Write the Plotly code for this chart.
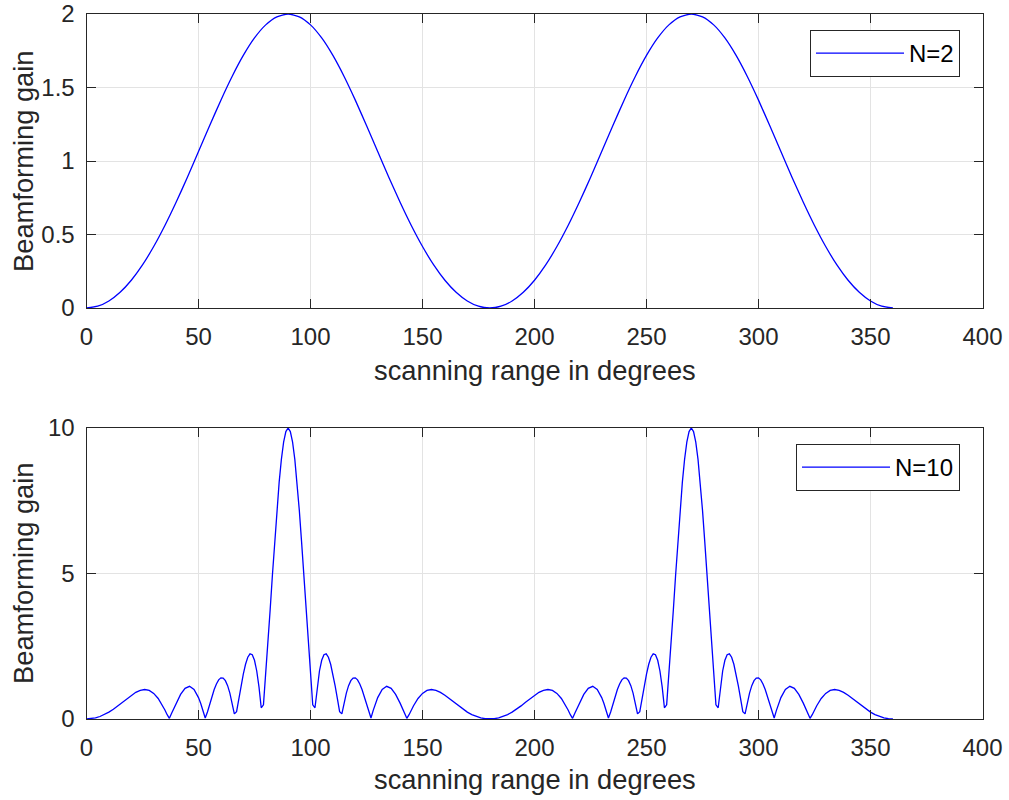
import plotly.graph_objects as go

# ---------------- data ----------------
angles_n2 = [0, 5, 10, 15, 20, 25, 30, 35, 40, 45, 50, 55, 60, 65, 70, 75, 80, 85, 90,
             95, 100, 105, 110, 115, 120, 125, 130, 135, 140, 145, 150, 155, 160, 165, 170, 175, 180,
             185, 190, 195, 200, 205, 210, 215, 220, 225, 230, 235, 240, 245, 250, 255, 260, 265, 270,
             275, 280, 285, 290, 295, 300, 305, 310, 315, 320, 325, 330, 335, 340, 345, 350, 355, 360]
gain_n2 = [0, 0.012, 0.048, 0.107, 0.189, 0.293, 0.418, 0.561, 0.719, 0.888, 1.064, 1.241, 1.414,
           1.575, 1.718, 1.837, 1.926, 1.981, 2.0,
           1.981, 1.926, 1.837, 1.718, 1.575, 1.414, 1.241, 1.064, 0.888, 0.719, 0.561, 0.418,
           0.293, 0.189, 0.107, 0.048, 0.012, 0,
           0.012, 0.048, 0.107, 0.189, 0.293, 0.418, 0.561, 0.719, 0.888, 1.064, 1.241, 1.414,
           1.575, 1.718, 1.837, 1.926, 1.981, 2.0,
           1.981, 1.926, 1.837, 1.718, 1.575, 1.414, 1.241, 1.064, 0.888, 0.719, 0.561, 0.418,
           0.293, 0.189, 0.107, 0.048, 0.012, 0]

angles_n10 = [
    0, 2, 4, 6, 8, 10, 12, 14, 16, 18, 20, 22, 24, 26, 28, 30, 32, 34, 35, 36, 37, 38,
    40, 42, 44, 46, 48, 50, 51, 52, 53, 54, 55, 56, 57, 58, 59, 60,
    61, 62, 63, 64, 65, 66, 67, 68, 69, 70, 71, 72, 73, 74, 75, 76, 77, 78, 79, 80,
    81, 82, 83, 84, 85, 86, 87, 88, 89, 90,
    91, 92, 93, 94, 95, 96, 97, 98, 99, 100, 101, 102, 103, 104, 105, 106, 107, 108, 109, 110,
    111, 112, 113, 114, 115, 116, 117, 118, 119, 120, 121, 122, 123, 124, 125, 126, 127, 128, 129, 130,
    132, 134, 136, 138, 140, 142, 143, 144, 145, 146,
    148, 150, 152, 154, 156, 158, 160, 162, 164, 166, 168, 170, 172, 174, 176, 178, 180,
    182, 184, 186, 188, 190, 192, 194, 196, 198, 200, 202, 204, 206, 208, 210, 212, 214,
    215, 216, 217, 218, 220, 222, 224, 226, 228, 230, 231, 232, 233, 234, 235, 236, 237, 238, 239, 240,
    241, 242, 243, 244, 245, 246, 247, 248, 249, 250, 251, 252, 253, 254, 255, 256, 257, 258, 259, 260,
    261, 262, 263, 264, 265, 266, 267, 268, 269, 270,
    271, 272, 273, 274, 275, 276, 277, 278, 279, 280, 281, 282, 283, 284, 285, 286, 287, 288, 289, 290,
    291, 292, 293, 294, 295, 296, 297, 298, 299, 300, 301, 302, 303, 304, 305, 306, 307, 308, 309, 310,
    312, 314, 316, 318, 320, 322, 323, 324, 325, 326,
    328, 330, 332, 334, 336, 338, 340, 342, 344, 346, 348, 350, 352, 354, 356, 358, 360]
gain_n10 = [
    0, 0.010, 0.038, 0.086, 0.152, 0.236, 0.337, 0.450, 0.573, 0.697, 0.815, 0.916, 0.986, 1.013,
    0.981, 0.880, 0.705, 0.457, 0.309, 0.148, 0.023, 0.198,
    0.545, 0.847, 1.055, 1.123, 1.019, 0.735, 0.532, 0.296, 0.035, 0.239, 0.514, 0.777, 1.012,
    1.205, 1.344, 1.414,
    1.408, 1.319, 1.147, 0.892, 0.565, 0.177, 0.252, 0.700, 1.140, 1.544, 1.881, 2.122, 2.240,
    2.211, 2.017, 1.650, 1.104, 0.386, 0.487, 1.493,
    2.598, 3.765, 4.949, 6.104, 7.178, 8.130, 8.922, 9.512, 9.876, 10.0,
    9.876, 9.512, 8.922, 8.130, 7.178, 6.104, 4.949, 3.765, 2.598, 1.493, 0.487, 0.386, 1.104,
    1.650, 2.017, 2.211, 2.240, 2.122, 1.881, 1.544,
    1.140, 0.700, 0.252, 0.177, 0.565, 0.892, 1.147, 1.319, 1.408, 1.414, 1.344, 1.205, 1.012,
    0.777, 0.514, 0.239, 0.035, 0.296, 0.532, 0.735,
    1.019, 1.123, 1.055, 0.847, 0.545, 0.198, 0.023, 0.148, 0.309, 0.457,
    0.705, 0.880, 0.981, 1.013, 0.986, 0.916, 0.815, 0.697, 0.573, 0.450, 0.337, 0.236, 0.152,
    0.086, 0.038, 0.010, 0,
    0.010, 0.038, 0.086, 0.152, 0.236, 0.337, 0.450, 0.573, 0.697, 0.815, 0.916, 0.986, 1.013,
    0.981, 0.880, 0.705, 0.457,
    0.309, 0.148, 0.023, 0.198, 0.545, 0.847, 1.055, 1.123, 1.019, 0.735, 0.532, 0.296, 0.035,
    0.239, 0.514, 0.777, 1.012, 1.205, 1.344, 1.414,
    1.408, 1.319, 1.147, 0.892, 0.565, 0.177, 0.252, 0.700, 1.140, 1.544, 1.881, 2.122, 2.240,
    2.211, 2.017, 1.650, 1.104, 0.386, 0.487, 1.493,
    2.598, 3.765, 4.949, 6.104, 7.178, 8.130, 8.922, 9.512, 9.876, 10.0,
    9.876, 9.512, 8.922, 8.130, 7.178, 6.104, 4.949, 3.765, 2.598, 1.493, 0.487, 0.386, 1.104,
    1.650, 2.017, 2.211, 2.240, 2.122, 1.881, 1.544,
    1.140, 0.700, 0.252, 0.177, 0.565, 0.892, 1.147, 1.319, 1.408, 1.414, 1.344, 1.205, 1.012,
    0.777, 0.514, 0.239, 0.035, 0.296, 0.532, 0.735,
    1.019, 1.123, 1.055, 0.847, 0.545, 0.198, 0.023, 0.148, 0.309, 0.457,
    0.705, 0.880, 0.981, 1.013, 0.986, 0.916, 0.815, 0.697, 0.573, 0.450, 0.337, 0.236, 0.152,
    0.086, 0.038, 0.010, 0]

x_ticks = [0, 50, 100, 150, 200, 250, 300, 350, 400]
y_ticks_top = [0, 0.5, 1, 1.5, 2]
y_ticks_bottom = [0, 5, 10]
x_title = "scanning range in degrees"
y_title = "Beamforming gain"

# ---------------- styling ----------------
W, H = 1009, 800
FONT = "Liberation Sans, Arial, Helvetica, sans-serif"
TXT = "#262626"
GRID = "#e3e3e3"
BLUE = "#0000ff"

x0, x1 = 86.5 / W, 982.5 / W
top_dom = [1 - 308 / H, 1 - 14 / H]
bot_dom = [1 - 719 / H, 1 - 428 / H]

fig = go.Figure()
fig.add_trace(go.Scatter(x=angles_n2, y=gain_n2, mode="lines", name="N=2", showlegend=True,
                         line=dict(color=BLUE, width=1.3, shape="spline", smoothing=0.6),
                         xaxis="x", yaxis="y", legend="legend"))
fig.add_trace(go.Scatter(x=angles_n10, y=gain_n10, mode="lines", name="N=10", showlegend=True,
                         line=dict(color=BLUE, width=1.3),
                         xaxis="x2", yaxis="y2", legend="legend2"))

axis_common = dict(showline=True, linecolor=TXT, linewidth=1, mirror="ticks",
                   ticks="inside", ticklen=9, tickwidth=1, tickcolor=TXT,
                   showgrid=True, gridcolor=GRID, gridwidth=1, zeroline=False,
                   automargin=False,
                   tickfont=dict(family=FONT, size=24, color=TXT))

legend_common = dict(bgcolor="white", bordercolor=TXT, borderwidth=1, xanchor="right",
                     yanchor="top", font=dict(family=FONT, size=24, color="black"),
                     itemwidth=88)

fig.update_layout(
    width=W, height=H, autosize=False, showlegend=True,
    margin=dict(l=0, r=0, t=0, b=0, autoexpand=False),
    paper_bgcolor="white", plot_bgcolor="white",
    xaxis=dict(domain=[x0, x1], anchor="y", range=[0, 400], tickvals=x_ticks,
               ticklabelstandoff=7, **axis_common),
    yaxis=dict(domain=top_dom, anchor="x", range=[0, 2], tickvals=y_ticks_top,
               ticklabelstandoff=6, **axis_common),
    xaxis2=dict(domain=[x0, x1], anchor="y2", range=[0, 400], tickvals=x_ticks,
                ticklabelstandoff=7, **axis_common),
    yaxis2=dict(domain=bot_dom, anchor="x2", range=[0, 10], tickvals=y_ticks_bottom,
                ticklabelstandoff=6, **axis_common),
    legend=dict(x=960 / W, y=1 - 30 / H, **legend_common),
    legend2=dict(x=960 / W, y=1 - 444 / H, **legend_common),
)

ann_font = dict(family=FONT, size=27.3, color=TXT)
for yc in (370, 779):
    fig.add_annotation(text=x_title, xref="paper", yref="paper", x=(x0 + x1) / 2, y=1 - yc / H,
                       xanchor="center", yanchor="middle", showarrow=False, font=ann_font)
for yc in (161, 573):
    fig.add_annotation(text=y_title, xref="paper", yref="paper", x=23 / W, y=1 - yc / H,
                       xanchor="center", yanchor="middle", textangle=-90, showarrow=False,
                       font=ann_font)

fig.write_html("out.html")
